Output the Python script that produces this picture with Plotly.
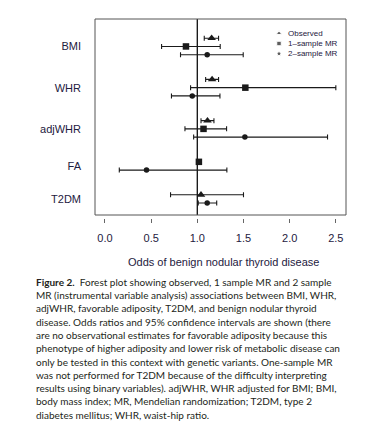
import plotly.graph_objects as go

# ---------------- data ----------------
categories = ["BMI", "WHR", "adjWHR", "FA", "T2DM"]
series_names = ["Observed", "1\u2013sample MR", "2\u2013sample MR"]

obs_or = [1.155, 1.16, 1.11, None, 1.04]
obs_lo = [1.075, 1.09, 1.04, None, 0.71]
obs_hi = [1.23, 1.23, 1.18, None, 1.50]

mr1_or = [0.877, 1.52, 1.067, 1.017, None]
mr1_lo = [0.613, 0.927, 0.866, 1.00, None]
mr1_hi = [1.248, 2.50, 1.317, 1.035, None]

mr2_or = [1.107, 0.945, 1.515, 0.45, 1.107]
mr2_lo = [0.818, 0.72, 0.96, 0.155, 1.01]
mr2_hi = [1.497, 1.245, 2.41, 1.32, 1.21]

x_ticks = [0.0, 0.5, 1.0, 1.5, 2.0, 2.5]
x_title = "Odds of benign nodular thyroid disease"

caption_lines = [
    "<b>Figure 2.</b>  Forest plot showing observed, 1 sample MR and 2 sample",
    "MR (instrumental variable analysis) associations between BMI, WHR,",
    "adjWHR, favorable adiposity, T2DM, and benign nodular thyroid",
    "disease. Odds ratios and 95% confidence intervals are shown (there",
    "are no observational estimates for favorable adiposity because this",
    "phenotype of higher adiposity and lower risk of metabolic disease can",
    "only be tested in this context with genetic variants. One-sample MR",
    "was not performed for T2DM because of the difficulty interpreting",
    "results using binary variables). adjWHR, WHR adjusted for BMI; BMI,",
    "body mass index; MR, Mendelian randomization; T2DM, type 2",
    "diabetes mellitus; WHR, waist-hip ratio.",
]

NULL_OR = 1.0

# ---------------- layout constants ----------------
W, H = 369, 434
OFF = 8                                  # page body margin
PL, PR, PT, PB = 95, 346, 19, 218        # paper area in window px
GAP = 3                                  # gap between box and x axis
NAVY = "#1e2040"
INK = "#1a1a1a"
FONT = "Liberation Sans, Arial, sans-serif"

def px_x(px):
    return (px - PL) / (PR - PL)

def px_y(py):
    return (PB - py) / (PB - PT)

# row positions: consecutive rows for present series, 2 blank rows between groups
series = [(obs_or, obs_lo, obs_hi, "triangle-up", 7.5),
          (mr1_or, mr1_lo, mr1_hi, "square", 6.5),
          (mr2_or, mr2_lo, mr2_hi, "circle", 5.5)]
rows = [[None] * len(categories) for _ in series]
centers = []
r = 0
for ci in range(len(categories)):
    start = r
    for si, (vals, _, _, _, _) in enumerate(series):
        if vals[ci] is not None:
            rows[si][ci] = r
            r += 1
    centers.append((start + r - 1) / 2)
    r += 2

fig = go.Figure()
for si, (vals, lo, hi, sym, sz) in enumerate(series):
    xs, ys, ep, em = [], [], [], []
    for ci in range(len(categories)):
        if vals[ci] is None:
            continue
        xs.append(vals[ci]); ys.append(rows[si][ci])
        ep.append(hi[ci] - vals[ci]); em.append(vals[ci] - lo[ci])
    fig.add_trace(go.Scatter(
        x=xs, y=ys, mode="markers", name=series_names[si], showlegend=False,
        marker=dict(symbol=sym, size=sz, color=INK),
        error_x=dict(type="data", symmetric=False, array=ep, arrayminus=em,
                     color=INK, thickness=1.1, width=2.5),
    ))

# legend keys on an overlay axis in pixel units
leg_y = [33.3, 43.5, 53.7]
leg_sym = [("triangle-up", 5), ("square", 4.5), ("circle", 3.8)]
fig.add_trace(go.Scatter(
    x=[279] * 3, y=leg_y, mode="markers", showlegend=False,
    xaxis="x2", yaxis="y2", hoverinfo="skip",
    marker=dict(symbol=[s for s, _ in leg_sym], size=[z for _, z in leg_sym], color=INK),
))

ymin = -2.33
ymax = 21.45

fig.update_layout(
    width=W - OFF, height=H - OFF,
    margin=dict(l=PL - OFF, r=W - PR, t=PT - OFF, b=H - PB, pad=0),
    paper_bgcolor="white", plot_bgcolor="white",
    font=dict(family=FONT, color=NAVY),
    showlegend=False,
    xaxis=dict(range=[-0.108, 2.61], tickvals=x_ticks,
               ticktext=[f"{v:.1f}" for v in x_ticks],
               ticks="outside", ticklen=4, tickcolor="#666", tickwidth=1,
               showline=False, showgrid=False, zeroline=False,
               anchor="free", position=0,
               tickfont=dict(size=11, color=NAVY), ticklabelstandoff=6),
    yaxis=dict(range=[ymax, ymin], domain=[GAP / (PB - PT), 1],
               tickvals=centers, ticktext=categories, ticks="",
               showline=False, showgrid=False, zeroline=False,
               tickfont=dict(size=11, color=NAVY), ticklabelstandoff=13),
    xaxis2=dict(range=[PL, PR], overlaying="x", visible=False, anchor="y2"),
    yaxis2=dict(range=[PB - GAP, PT], domain=[GAP / (PB - PT), 1],
                overlaying="y", visible=False, anchor="x2"),
    shapes=[
        dict(type="rect", xref="x domain", yref="y domain", x0=0, x1=1, y0=0, y1=1,
             line=dict(color="#555", width=1), layer="above"),
        dict(type="line", xref="x", yref="y domain", x0=NULL_OR, x1=NULL_OR, y0=0, y1=1,
             line=dict(color=INK, width=1.4), layer="below"),
    ],
)

ann = []
for name, yy in zip(series_names, leg_y):
    ann.append(dict(text=name, xref="paper", yref="paper", x=px_x(286), y=px_y(yy),
                    xanchor="left", yanchor="middle", showarrow=False,
                    font=dict(size=8, color=NAVY, family=FONT)))
ann.append(dict(text=x_title, xref="paper", yref="paper", x=px_x(223), y=px_y(261.7),
                xanchor="center", yanchor="middle", showarrow=False,
                font=dict(size=11, color=NAVY, family=FONT)))
CAP_Y0, CAP_DY = 281.7, 13.3
for i, line in enumerate(caption_lines):
    ann.append(dict(text=line, xref="paper", yref="paper", x=px_x(34),
                    y=px_y(CAP_Y0 + CAP_DY * i),
                    xanchor="left", yanchor="middle", showarrow=False,
                    font=dict(size=10, color="#231f20", family="Lato, sans-serif")))
fig.update_layout(annotations=ann)

fig.write_html("out.html")
